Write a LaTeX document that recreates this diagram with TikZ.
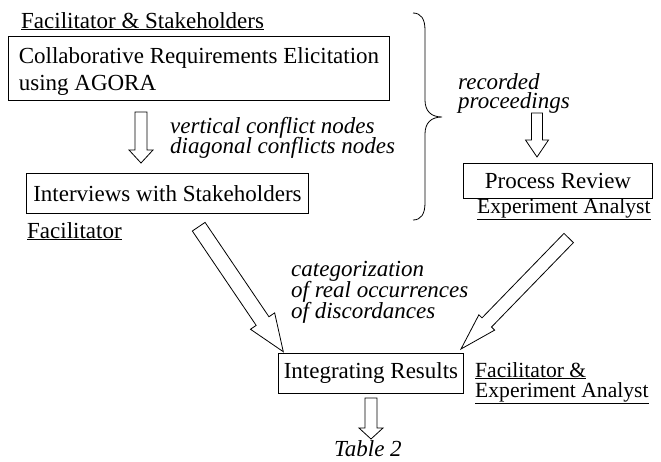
\documentclass[tikz,border=0pt]{standalone}
\usepackage{fontspec}
\setmainfont{Liberation Serif}
\usetikzlibrary{calc}

\newcommand\dfont{\fontsize{23}{27}\selectfont}
\newcommand\rfont{\fontsize{21.6}{24}\selectfont}

% Hollow block arrow from tail coordinate #1 to tip coordinate #2;
% #3 = shaft half-width, #4 = head half-width, #5 = head length (pt).
\newcommand\hollowarrow[5]{%
  \pgfpointdiff{\pgfpointanchor{#1}{center}}{\pgfpointanchor{#2}{center}}%
  \pgfgetlastxy{\harDx}{\harDy}%
  \pgfmathsetmacro\harAng{atan2(\harDy,\harDx)}%
  \pgfmathsetmacro\harLen{veclen(\harDx,\harDy)}%
  \begin{scope}[shift={(#1)}, x=1pt, y=1pt, rotate=\harAng]
    \draw[blockarrow] (0,#3) -- ({\harLen-#5},#3) -- ({\harLen-#5},#4)
      -- (\harLen,0) -- ({\harLen-#5},-#4) -- ({\harLen-#5},-#3)
      -- (0,-#3) -- cycle;
  \end{scope}}

\tikzset{
  box/.style={draw, line width=0.9pt, inner sep=0pt, font=\dfont},
  lbl/.style={inner sep=0pt, anchor=base west, font=\dfont},
  rlbl/.style={inner sep=0pt, anchor=base west, font=\rfont},
  note/.style={inner sep=0pt, anchor=base west, font=\dfont\itshape},
  blockarrow/.style={draw, line width=0.8pt, fill=white, line join=miter},
  bracestyle/.style={draw, line width=0.8pt}
}

\begin{document}
\begin{tikzpicture}[x=1pt, y=-1pt]
\useasboundingbox (0,0) rectangle (661,461);

% role labels
\node[lbl] (roleFS) at (21,28) {\underline{Facilitator \& Stakeholders}};
\node[lbl] (roleF) at (27,238) {\underline{Facilitator}};
\node[rlbl] (roleEA) at (477,213) {\underline{Experiment Analyst}};
\node[rlbl] (roleFEa) at (475,377) {\underline{Facilitator \&}};
\node[rlbl] (roleFEb) at (475,397) {\underline{Experiment Analyst}};

% process steps
\node[box, anchor=north west, minimum width=381, minimum height=64, align=left]
  (elic) at (8,36) {\rule{0pt}{22pt}Collaborative Requirements Elicitation\\using AGORA};
\node[box, anchor=north west, minimum width=282, minimum height=40]
  (intv) at (26,173) {Interviews with Stakeholders};
\node[box, anchor=north west, minimum width=189, minimum height=35]
  (review) at (463,163) {Process Review};
\node[box, anchor=north west, minimum width=185, minimum height=40]
  (integ) at (278,353) {Integrating Results};

% annotations
\node[note] (vcn) at (170,133) {vertical conflict nodes};
\node[note] (dcn) at (170,153) {diagonal conflicts nodes};
\node[note] (rec) at (458,89) {recorded};
\node[note] (proc) at (458,108) {proceedings};
\node[note] (cat1) at (291,276) {categorization};
\node[note] (cat2) at (291,297) {of real occurrences};
\node[note] (cat3) at (291,318) {of discordances};
\node[note] (tab) at (334,456) {Table 2};

% arrow end points
\coordinate (elicOut) at (141,112);
\coordinate (intvIn) at (141,163);
\coordinate (procOut) at (537,113);
\coordinate (reviewIn) at (537,157);
\coordinate (intvOut) at (198.7,226.7);
\coordinate (integInL) at (283.3,351.7);
\coordinate (reviewOut) at (568.7,238);
\coordinate (integInR) at (461,349);
\coordinate (integOut) at (371,398);
\coordinate (tabIn) at (371,439);

\hollowarrow{elicOut}{intvIn}{6}{12}{13}
\hollowarrow{procOut}{reviewIn}{5.5}{11.5}{17}
\hollowarrow{intvOut}{integInL}{7.7}{14.6}{37}
\hollowarrow{reviewOut}{integInR}{6.6}{11}{37}
\hollowarrow{integOut}{tabIn}{6}{12}{11}

% brace grouping the elicitation and interview steps
\coordinate (brTop) at (413,13);
\coordinate (brTip) at (442,117);
\coordinate (brBot) at (413,220);
\draw[bracestyle] (brTop) .. controls (421,13) and (425,19) .. (425,30)
  -- (425,100) .. controls (425,111) and (431,117) .. (brTip)
  .. controls (431,117) and (425,123) .. (425,134)
  -- (425,203) .. controls (425,214) and (421,220) .. (brBot);
\end{tikzpicture}
\end{document}
